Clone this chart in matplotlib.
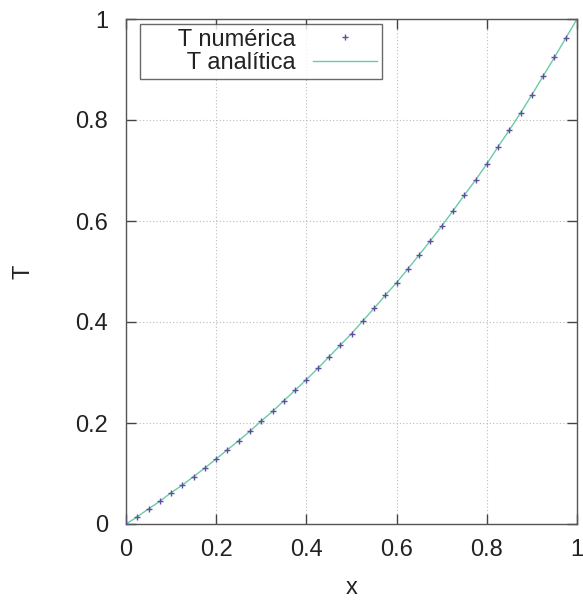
import matplotlib
matplotlib.use("Agg")
import matplotlib.pyplot as plt

x_vals = [i * 0.025 for i in range(41)]
t_numerica = [0.000, 0.0143, 0.030, 0.045, 0.062, 0.077, 0.094, 0.111, 0.129, 0.147,
              0.165, 0.184, 0.204, 0.223, 0.244, 0.265, 0.286, 0.308, 0.331, 0.354,
              0.377, 0.402, 0.427, 0.453, 0.478, 0.505, 0.533, 0.561, 0.590, 0.620,
              0.651, 0.681, 0.713, 0.747, 0.780, 0.814, 0.850, 0.887, 0.924, 0.962, 1.000]
t_analitica = list(t_numerica)
xticks = [0, 0.2, 0.4, 0.6, 0.8, 1]
xtick_labels = ["0", "0.2", "0.4", "0.6", "0.8", "1"]
yticks = [0, 0.2, 0.4, 0.6, 0.8, 1]
ytick_labels = ["0", "0.2", "0.4", "0.6", "0.8", "1"]

plt.rcParams['font.family'] = ['Liberation Sans', 'DejaVu Sans']
FS = 17

fig = plt.figure(figsize=(5.83, 6.01), dpi=100)
ax = fig.add_axes([126/583, 1 - 524/601, (577-126)/583, (524-19)/601])

ax.plot(x_vals, t_analitica, color='#6cc9a9', lw=1.0, label='T analítica', zorder=2)
ax.plot(x_vals, t_numerica, linestyle='none', marker='+', ms=4.5, mew=1.0,
        color='#5c4f9e', label='T numérica', zorder=3)

ax.set_xlim(0, 1)
ax.set_ylim(0, 1)
ax.set_xticks(xticks)
ax.set_xticklabels(xtick_labels)
ax.set_yticks(yticks)
ax.set_yticklabels(ytick_labels)
ax.tick_params(direction='in', length=7, width=1, top=True, right=True,
               labelsize=FS, colors='#444444', labelcolor='#222222')
ax.tick_params(axis='y', pad=13)
ax.tick_params(axis='x', pad=11)
ax.grid(True, linestyle=(0, (1, 2)), color='#bbbbbb', lw=0.8)
for s in ax.spines.values():
    s.set_color('#555555')
    s.set_linewidth(1.0)

ax.set_xlabel('x', fontsize=FS, color='#222222', va='center', ha='center')
ax.xaxis.set_label_coords(0.5, (524 - 588) / 505)
ax.set_ylabel('T', fontsize=FS, color='#222222', rotation=90, va='center', ha='center')
ax.yaxis.set_label_coords((24 - 126) / 451, 0.5)

handles, labels = ax.get_legend_handles_labels()
labels = ['     ' + l for l in labels]
leg = ax.legend(handles[::-1], labels[::-1], loc='upper left',
                bbox_to_anchor=((140 - 126) / 451, (524 - 24) / 505),
                markerfirst=False, fontsize=FS, frameon=True, fancybox=False,
                edgecolor='#444444', handlelength=2.7, handletextpad=0.75,
                borderpad=0.2, labelspacing=0.05, borderaxespad=0)
leg.get_frame().set_linewidth(1.0)
for t in leg.get_texts():
    t.set_ha('right')
    t.set_color('#222222')

fig.savefig('out.png', dpi=100)
